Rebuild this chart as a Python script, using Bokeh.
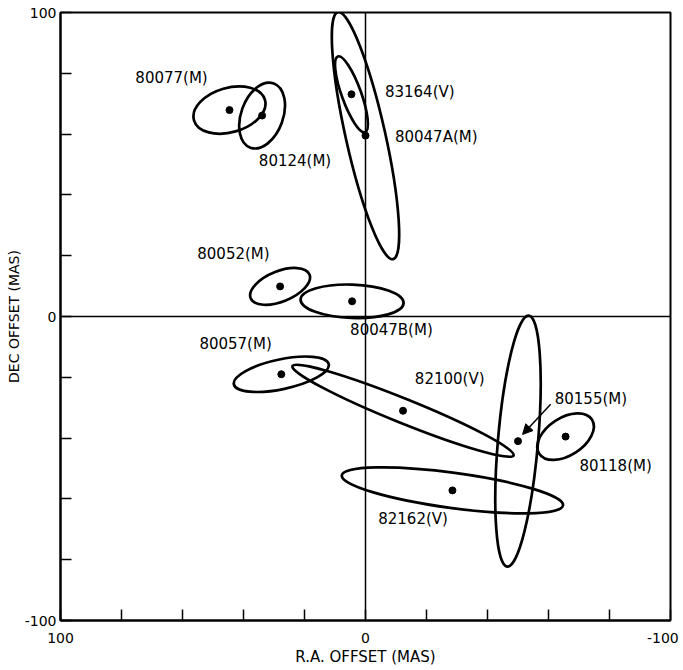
import numpy as np
from bokeh.plotting import figure
from bokeh.models import (Range1d, FixedTicker, Span, Arrow, NormalHead, ColumnDataSource,
                          LinearAxis)
from bokeh.core.properties import value
from bokeh.embed import file_html
from bokeh.resources import INLINE

# ---- data: astrometric offsets of sources with error ellipses ----
NAMES = ["80077(M)", "80124(M)", "80047A(M)", "83164(V)", "80052(M)", "80047B(M)",
         "80057(M)", "82100(V)", "80155(M)", "80118(M)", "82162(V)"]
RA = [44.6, 33.9, 0.0, 4.6, 28.0, 4.4, 27.6, -12.3, -50.0, -65.6, -28.5]      # mas
DEC = [67.9, 66.1, 59.5, 73.1, 9.9, 5.0, -19.0, -31.0, -41.0, -39.5, -57.2]   # mas
SEMI_MAJOR = [12.1, 11.2, 41.5, 13.2, 10.4, 16.9, 15.9, 39.1, 41.3, 10.3, 36.6]
SEMI_MINOR = [7.3, 6.9, 6.5, 3.2, 5.0, 5.5, 4.9, 4.0, 6.6, 6.2, 5.8]
ORIENT_DEG = [16, 70, 102.6, 109.8, 22, -2, 12, -22, 85.1, 33, -7.7]

TICKS = list(range(-100, 101, 20))
LABELED_TICKS = [100, 0, -100]

# ---- layout of annotation texts ----
LABEL_X = [63.6, 23.1, -23.2, -17.8, 43.3, -8.5, 42.6, -27.6, -73.9, -82.0, -15.6]
LABEL_Y = [78.3, 51.3, 59.2, 73.7, 20.7, -4.6, -9.2, -20.7, -27.0, -49.3, -66.5]
ARROW_START = (-60.7, -28.9)
ARROW_TARGET = "80155(M)"
EDGE_LABEL_SHIFT = 2.5   # keeps the rightmost x tick label inside the page

FONT = "DejaVu Sans"

p = figure(frame_width=610, frame_height=608,
           min_border_left=60, min_border_right=13, min_border_top=12, min_border_bottom=50,
           x_range=Range1d(100, -100), y_range=Range1d(-100, 100),
           output_backend="svg", toolbar_location=None)
p.background_fill_color = "white"
p.border_fill_color = "white"
p.outline_line_color = "black"
p.outline_line_width = 2
p.xgrid.visible = False
p.ygrid.visible = False

for ax in (p.xaxis[0], p.yaxis[0]):
    ax.ticker = FixedTicker(ticks=TICKS)
    ax.major_tick_in = 11
    ax.major_tick_out = 0
    ax.minor_tick_line_color = None
    ax.axis_line_width = 2
    ax.major_tick_line_width = 1.5
    ax.axis_line_color = "black"
    ax.major_tick_line_color = "black"

# y axis: labels at 100, 0, -100 and title
p.yaxis.major_label_overrides = {t: (str(t) if t in LABELED_TICKS else "") for t in TICKS}
p.yaxis.major_label_text_font = FONT
p.yaxis.major_label_text_font_size = "14px"
p.yaxis.major_label_text_color = "black"
p.yaxis.major_label_standoff = 4
p.yaxis.axis_label = "DEC OFFSET (MAS)"
p.yaxis.axis_label_text_font = FONT
p.yaxis.axis_label_text_font_size = "14px"
p.yaxis.axis_label_text_font_style = "normal"
p.yaxis.axis_label_text_color = "black"
p.yaxis.axis_label_standoff = 0

# x axis: ticks only on the frame axis
p.xaxis.major_label_overrides = {t: "" for t in TICKS}
p.xaxis.major_label_text_font_size = "0px"
p.xaxis.major_label_standoff = 0

# second (line-less) x axis carrying the tick labels and the title
lab_ticks = [t + EDGE_LABEL_SHIFT if t == -100 else t for t in LABELED_TICKS]
xlab = LinearAxis(ticker=FixedTicker(ticks=lab_ticks),
                  major_label_overrides={lt: str(t) for lt, t in zip(lab_ticks, LABELED_TICKS)},
                  axis_line_color=None, major_tick_line_color=None, minor_tick_line_color=None,
                  major_label_text_font=FONT, major_label_text_font_size="14px",
                  major_label_text_color="black", major_label_standoff=6,
                  axis_label="R.A. OFFSET (MAS)", axis_label_text_font=FONT,
                  axis_label_text_font_size="15px", axis_label_text_font_style="normal",
                  axis_label_text_color="black", axis_label_standoff=2)
p.add_layout(xlab, "below")

# zero lines
p.add_layout(Span(location=0, dimension="height", line_color="black", line_width=1.5))
p.add_layout(Span(location=0, dimension="width", line_color="black", line_width=1.5))

src = ColumnDataSource(dict(
    ra=RA, dec=DEC,
    w=[2 * a for a in SEMI_MAJOR], h=[2 * b for b in SEMI_MINOR],
    ang=[np.deg2rad(d) for d in ORIENT_DEG],
    name=NAMES, lx=LABEL_X, ly=LABEL_Y))

p.ellipse(x="ra", y="dec", width="w", height="h", angle="ang", source=src,
          fill_color=None, line_color="black", line_width=2.7)
p.scatter(x="ra", y="dec", source=src, size=7, color="black")

p.text(x="lx", y="ly", text="name", source=src, text_font=value(FONT),
       text_font_size="15px", text_align="center", text_baseline="middle", text_color="black")

i = NAMES.index(ARROW_TARGET)
p.add_layout(Arrow(end=NormalHead(size=10, fill_color="black", line_color="black"),
                   x_start=ARROW_START[0], y_start=ARROW_START[1],
                   x_end=RA[i] - 1.5, y_end=DEC[i] + 2.2,
                   line_color="black", line_width=1.5))

open("out.html", "w").write(file_html(p, INLINE))
